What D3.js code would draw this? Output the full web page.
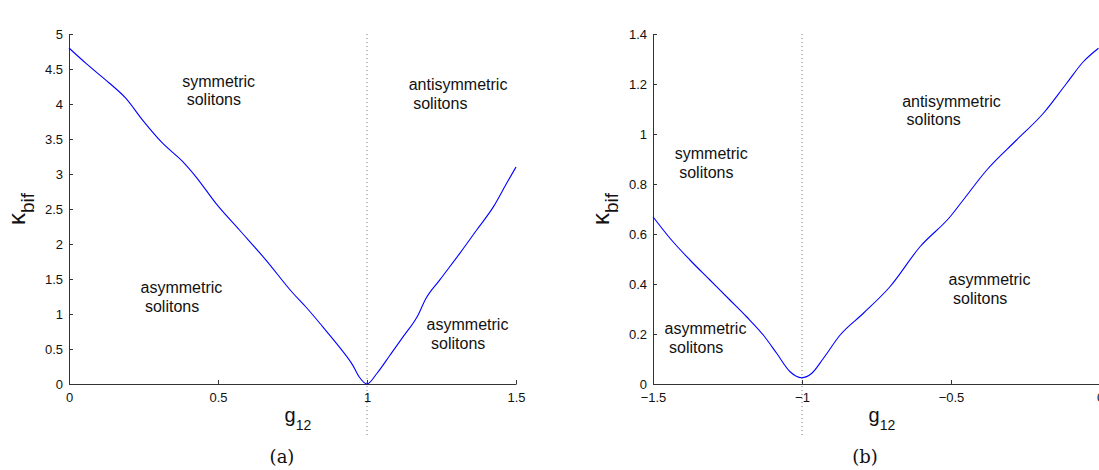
<!DOCTYPE html>
<html>
<head>
<meta charset="utf-8">
<script src="https://cdn.jsdelivr.net/npm/d3@7"></script>
<style>
  body { margin: 0; background: #fff; }
  svg text { font-family: "Liberation Sans", Arial, sans-serif; fill: #111; }
</style>
</head>
<body>
<svg id="fig" width="1099" height="470"></svg>
<script>
// panel (a): g12 from 0 to 1.5
const gA = [0, 0.057, 0.135, 0.191, 0.247, 0.314, 0.381, 0.426, 0.493, 0.572, 0.661, 0.751, 0.795, 0.851, 0.907, 0.952, 0.974, 1.0,
  1.033, 1.077, 1.122, 1.172, 1.195, 1.245, 1.312, 1.368, 1.424, 1.469, 1.5];
const kA = [4.80, 4.58, 4.30, 4.08, 3.77, 3.44, 3.18, 2.96, 2.58, 2.20, 1.77, 1.30, 1.10, 0.82, 0.53, 0.27, 0.10, 0.0,
  0.15, 0.41, 0.68, 0.99, 1.20, 1.49, 1.87, 2.20, 2.53, 2.87, 3.10];

// panel (b): g12 from -1.5 to 0
const gB = [-1.5, -1.443, -1.376, -1.309, -1.242, -1.186, -1.130, -1.085, -1.040, -1.001, -0.967, -0.928, -0.872, -0.794, -0.705,
  -0.604, -0.503, -0.459, -0.380, -0.280, -0.190, -0.112, -0.056, -0.005];
const kB = [0.669, 0.583, 0.496, 0.416, 0.336, 0.269, 0.196, 0.123, 0.049, 0.025, 0.043, 0.103, 0.196, 0.283, 0.389,
  0.549, 0.669, 0.736, 0.856, 0.976, 1.083, 1.203, 1.289, 1.343];

// tick values
const xTicksA = [0, 0.5, 1, 1.5];
const yTicksA = [0, 0.5, 1, 1.5, 2, 2.5, 3, 3.5, 4, 4.5, 5];
const xTicksB = [-1.5, -1, -0.5, 0];
const yTicksB = [0, 0.2, 0.4, 0.6, 0.8, 1, 1.2, 1.4];

// region labels
const notesA = [
  { g: 0.38, k: 4.25, lines: ["symmetric", " solitons"] },
  { g: 1.14, k: 4.2, lines: ["antisymmetric", " solitons"] },
  { g: 0.24, k: 1.3, lines: ["asymmetric", " solitons"] },
  { g: 1.2, k: 0.77, lines: ["asymmetric", " solitons"] }
];
const notesB = [
  { g: -1.427, k: 0.9, lines: ["symmetric", " solitons"] },
  { g: -0.664, k: 1.11, lines: ["antisymmetric", " solitons"] },
  { g: -0.508, k: 0.396, lines: ["asymmetric", " solitons"] },
  { g: -1.461, k: 0.2, lines: ["asymmetric", " solitons"] }
];

const svg = d3.select("#fig");
const fmt = d => String(d).replace("-", "\u2212");

function panel(opt) {
  const x = d3.scaleLinear().domain(opt.xDomain).range(opt.xRange);
  const y = d3.scaleLinear().domain(opt.yDomain).range([384, 34]);
  const g = svg.append("g");

  // dotted marker at the bifurcation point
  g.append("line")
    .attr("x1", x(opt.mark)).attr("x2", x(opt.mark))
    .attr("y1", 34).attr("y2", 436)
    .attr("stroke", "#777")
    .attr("stroke-width", 1)
    .attr("stroke-dasharray", "1,3");

  const xAxis = g.append("g")
    .attr("transform", "translate(0,384)")
    .call(d3.axisBottom(x).tickValues(opt.xTicks).tickFormat(fmt)
      .tickSizeInner(-4).tickSizeOuter(0).tickPadding(9));
  const yAxis = g.append("g")
    .attr("transform", `translate(${opt.xRange[0]},0)`)
    .call(d3.axisLeft(y).tickValues(opt.yTicks).tickFormat(fmt)
      .tickSizeInner(-4).tickSizeOuter(0).tickPadding(6));
  [xAxis, yAxis].forEach(a => {
    a.select(".domain").attr("stroke", "#333");
    a.selectAll(".tick line").attr("stroke", "#333");
    a.selectAll("text").style("font-size", "13px").attr("fill", "#111");
  });

  // curve
  const line = d3.line().x(d => x(d[0])).y(d => y(d[1])).curve(d3.curveMonotoneX);
  g.append("path")
    .datum(opt.gs.map((v, i) => [v, opt.ks[i]]))
    .attr("fill", "none")
    .attr("stroke", "#0000ff")
    .attr("stroke-width", 1.1)
    .attr("d", line);

  // region labels
  opt.notes.forEach(n => {
    const t = g.append("text")
      .attr("x", x(n.g)).attr("y", y(n.k))
      .style("font-size", "16px")
      .attr("xml:space", "preserve");
    n.lines.forEach((s, i) => {
      t.append("tspan").attr("x", x(n.g)).attr("dy", i ? 18.7 : 0).text(s);
    });
  });

  // axis labels
  const cx = (opt.xRange[0] + opt.xRange[1]) / 2;
  const xl = g.append("text").attr("x", cx - 8).attr("y", 422).style("font-size", "20px");
  xl.append("tspan").text("g");
  xl.append("tspan").attr("dy", 8).style("font-size", "14px").text("12");

  const yl = g.append("text")
    .attr("transform", `translate(${opt.xRange[0] - 44},225) rotate(-90)`)
    .style("font-size", "24px");
  yl.append("tspan").text("\u03ba");
  yl.append("tspan").attr("dy", 9).style("font-size", "19px").text("bif");

  g.append("text")
    .attr("x", opt.capX).attr("y", 463)
    .attr("text-anchor", "middle")
    .style("font-family", "'DejaVu Serif', 'Liberation Serif', serif")
    .style("font-size", "18px")
    .text(opt.cap);
}

panel({ xDomain: [0, 1.5], xRange: [69, 516], yDomain: [0, 5], xTicks: xTicksA, yTicks: yTicksA,
  gs: gA, ks: kA, mark: 1, notes: notesA, cap: "(a)", capX: 282 });
panel({ xDomain: [-1.5, 0], xRange: [653, 1100], yDomain: [0, 1.4], xTicks: xTicksB, yTicks: yTicksB,
  gs: gB, ks: kB, mark: -1, notes: notesB, cap: "(b)", capX: 865 });
</script>
</body>
</html>
